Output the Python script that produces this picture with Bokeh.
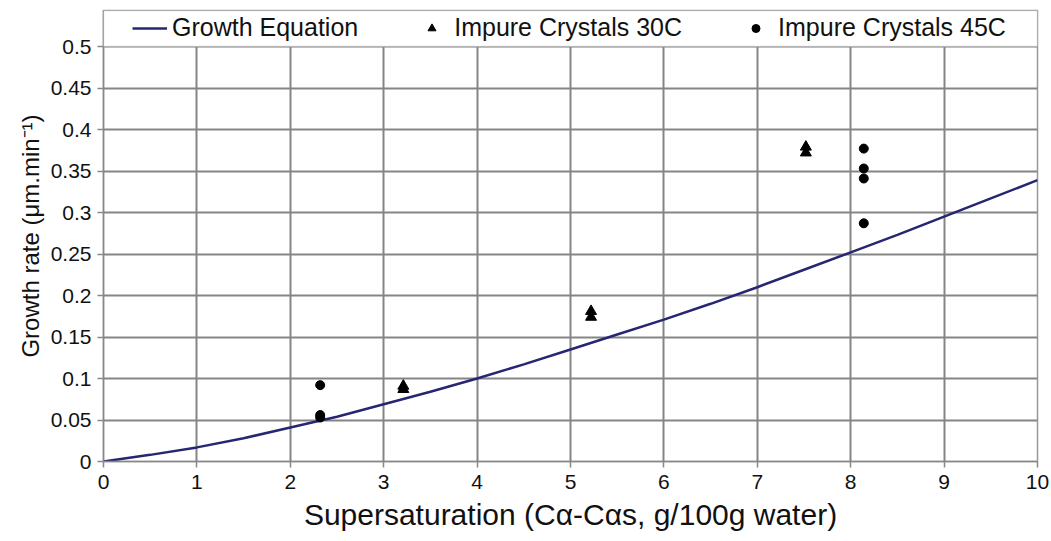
from bokeh.plotting import figure
from bokeh.models import Range1d, FixedTicker, Legend, LegendItem, BoxAnnotation
from bokeh.embed import file_html
from bokeh.resources import INLINE

# Growth equation curve
eq_x = [0, 0.5, 1, 1.5, 2, 2.5, 3, 3.5, 4, 4.5, 5, 5.5, 6, 6.5, 7, 7.5, 8, 8.5, 9, 9.5, 10]
eq_y = [0, 0.008, 0.017, 0.028, 0.041, 0.054, 0.069, 0.084, 0.100, 0.117, 0.135,
        0.153, 0.171, 0.190, 0.210, 0.231, 0.252, 0.273, 0.295, 0.317, 0.339]

# Impure crystals 30C (triangles)
c30_x = [3.21, 3.21, 5.22, 5.22, 7.52, 7.52]
c30_y = [0.087, 0.091, 0.174, 0.181, 0.372, 0.379]

# Impure crystals 45C (circles)
c45_x = [2.32, 2.32, 2.32, 8.14, 8.14, 8.14, 8.14]
c45_y = [0.092, 0.056, 0.053, 0.377, 0.353, 0.341, 0.287]

x_ticks = [0, 1, 2, 3, 4, 5, 6, 7, 8, 9, 10]
x_tick_labels = ["0", "1", "2", "3", "4", "5", "6", "7", "8", "9", "10"]
y_ticks = [0, 0.05, 0.1, 0.15, 0.2, 0.25, 0.3, 0.35, 0.4, 0.45, 0.5]
y_tick_labels = ["0", "0.05", "0.1", "0.15", "0.2", "0.25", "0.3", "0.35", "0.4", "0.45", "0.5"]

FONT = "Liberation Sans"
GRID = "#858585"

p = figure(width=1051, height=541, x_range=Range1d(0, 10), y_range=Range1d(0, 0.5434),
           output_backend="svg", toolbar_location=None,
           min_border_left=103, min_border_right=14, min_border_top=10, min_border_bottom=80)
p.background_fill_color = "white"
p.border_fill_color = "white"
p.outline_line_color = "#999999"
p.outline_line_width = 1.5

# grid
p.xgrid.ticker = FixedTicker(ticks=x_ticks)
p.ygrid.ticker = FixedTicker(ticks=y_ticks)
for g in (p.xgrid, p.ygrid):
    g.grid_line_color = GRID
    g.grid_line_width = 2

# axes
p.xaxis.ticker = FixedTicker(ticks=x_ticks)
p.yaxis.ticker = FixedTicker(ticks=y_ticks)
p.xaxis.major_label_overrides = {t: l for t, l in zip(x_ticks, x_tick_labels)}
p.yaxis.major_label_overrides = {t: l for t, l in zip(y_ticks, y_tick_labels)}
for ax in (p.xaxis, p.yaxis):
    ax.axis_line_color = "#888888"
    ax.axis_line_width = 1.5
    ax.major_tick_line_color = "#888888"
    ax.major_tick_line_width = 1.5
    ax.major_tick_in = 0
    ax.major_tick_out = 6
    ax.minor_tick_line_color = None
    ax.major_label_text_font = FONT
    ax.major_label_text_font_size = "21px"
    ax.major_label_text_color = "#111111"
    ax.axis_label_text_font = FONT
    ax.axis_label_text_font_style = "normal"
    ax.axis_label_text_color = "#111111"

p.xaxis.axis_label = "Supersaturation (C\u03b1-C\u03b1s, g/100g water)"
p.xaxis.axis_label_text_font_size = "30px"
p.xaxis.major_label_standoff = 7
p.xaxis.axis_label_standoff = 6
p.yaxis.axis_label = "Growth rate (\u03bcm.min\u207b\u00b9)"
p.yaxis.axis_label_text_font_size = "24px"
p.yaxis.major_label_standoff = 6
p.yaxis.axis_label_standoff = 4

# data
r_eq = p.line(eq_x, eq_y, line_color="#262673", line_width=2.5)
r_30 = p.scatter(c30_x, c30_y, marker="triangle", size=11, fill_color="black", line_color="black")
r_45 = p.scatter(c45_x, c45_y, marker="circle", size=9, fill_color="black", line_color="black")

# legend box region above 0.5
box = BoxAnnotation(bottom=0.5, fill_color="white", fill_alpha=1.0,
                    line_color="#999999", line_width=1.5)
p.add_layout(box)

legend = Legend(items=[LegendItem(label="Growth Equation", renderers=[r_eq]),
                       LegendItem(label="Impure Crystals 30C", renderers=[r_30]),
                       LegendItem(label="Impure Crystals 45C", renderers=[r_45])],
                location=(29, 419), orientation="horizontal", padding=0, margin=0,
                spacing=56, glyph_width=35, glyph_height=20, label_standoff=5,
                label_text_font=FONT, label_text_font_size="25px", label_text_color="#111111",
                background_fill_alpha=0, border_line_color=None)
p.add_layout(legend)

open("out.html", "w").write(file_html(p, INLINE))
